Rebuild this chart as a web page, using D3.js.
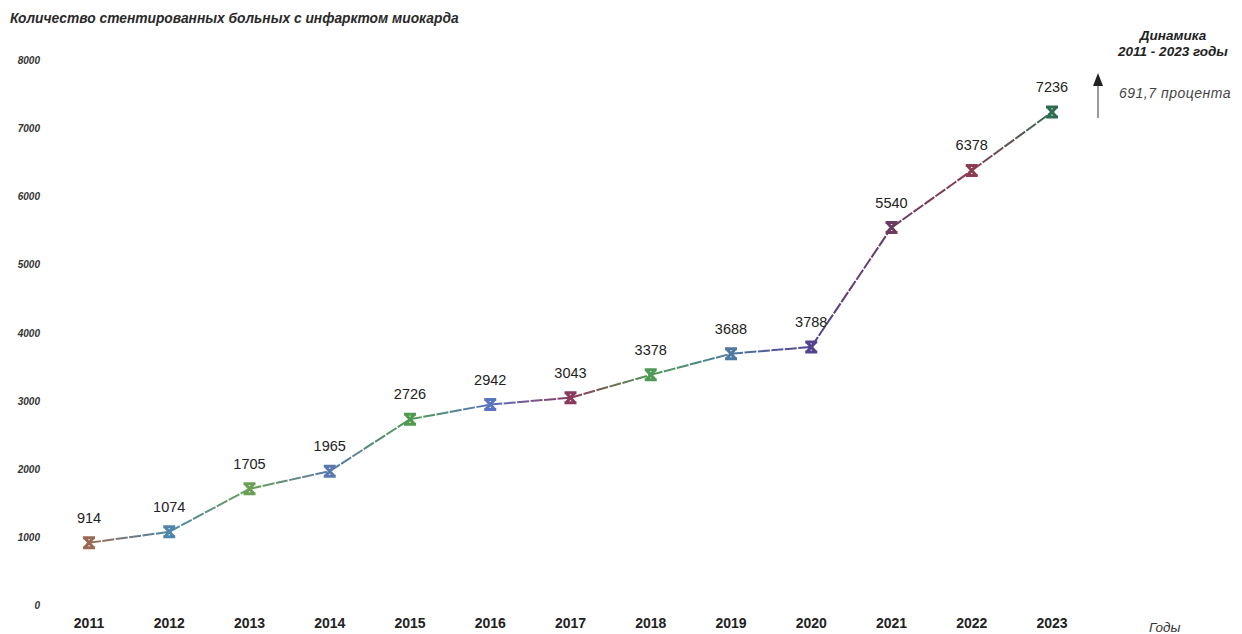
<!DOCTYPE html>
<html lang="ru">
<head>
<meta charset="utf-8">
<script src="https://cdn.jsdelivr.net/npm/d3@7"></script>
<style>
  html, body { margin: 0; padding: 0; background: #fff; }
  svg { display: block; font-family: "Liberation Sans", Arial, sans-serif; }
</style>
</head>
<body>
<svg id="chart" width="1242" height="634"></svg>
<script>
// Stented myocardial infarction patients per year
const years = ["2011", "2012", "2013", "2014", "2015", "2016", "2017", "2018", "2019", "2020", "2021", "2022", "2023"];
const patients = [914, 1074, 1705, 1965, 2726, 2942, 3043, 3378, 3688, 3788, 5540, 6378, 7236];
const yTicks = [0, 1000, 2000, 3000, 4000, 5000, 6000, 7000, 8000];

const titleText = "Количество стентированных больных с инфарктом миокарда";
const xAxisTitle = "Годы";
const noteLines = ["Динамика", "2011 - 2023 годы"];
const noteValue = "691,7 процента";

// marker colours, one per year
const pointColors = ["#9a6a55", "#4d86a8", "#6aa055", "#5a78b0", "#4f9a4f", "#5a74c4",
                     "#8a3a5c", "#4f9a55", "#4f7aa0", "#54428e", "#6a3c60", "#8a3c50", "#2e6e50"];

const svg = d3.select("#chart");

const x = d3.scalePoint().domain(years).range([89, 1052]);
const y = d3.scaleLinear().domain([0, 8000]).range([605, 60]);

// title
svg.append("text")
  .attr("x", 10).attr("y", 23)
  .attr("font-size", 13.8).attr("font-style", "italic").attr("font-weight", "bold").attr("fill", "#2a2a2a")
  .text(titleText);

// y axis labels (no line, no ticks)
svg.append("g").selectAll("text").data(yTicks).join("text")
  .attr("x", 40).attr("y", d => y(d) + 4)
  .attr("text-anchor", "end")
  .attr("font-size", 10).attr("font-weight", "bold").attr("font-style", "italic")
  .attr("fill", "#333")
  .text(d => d);

// x axis labels
svg.append("g").selectAll("text").data(years).join("text")
  .attr("x", d => x(d)).attr("y", 628)
  .attr("text-anchor", "middle")
  .attr("font-size", 14).attr("font-weight", "bold").attr("fill", "#222")
  .text(d => d);

svg.append("text")
  .attr("x", 1149).attr("y", 632)
  .attr("font-size", 13.5).attr("font-style", "italic").attr("fill", "#333")
  .text(xAxisTitle);

const pts = years.map((yr, i) => ({ year: yr, value: patients[i], color: pointColors[i] }));

// gradient-coloured line segments between consecutive points
const defs = svg.append("defs");
const segs = pts.slice(1).map((p, i) => ({ a: pts[i], b: p, id: "seg" + i }));
segs.forEach(s => {
  const g = defs.append("linearGradient")
    .attr("id", s.id).attr("gradientUnits", "userSpaceOnUse")
    .attr("x1", x(s.a.year)).attr("y1", y(s.a.value))
    .attr("x2", x(s.b.year)).attr("y2", y(s.b.value));
  g.append("stop").attr("offset", "0%").attr("stop-color", s.a.color);
  g.append("stop").attr("offset", "100%").attr("stop-color", s.b.color);
});

svg.append("g").selectAll("line").data(segs).join("line")
  .attr("x1", d => x(d.a.year)).attr("y1", d => y(d.a.value))
  .attr("x2", d => x(d.b.year)).attr("y2", d => y(d.b.value))
  .attr("stroke", d => `url(#${d.id})`)
  .attr("stroke-width", 2)
  .attr("stroke-dasharray", "12 1.5");

// hourglass-shaped markers
svg.append("g").selectAll("path").data(pts).join("path")
  .attr("transform", d => `translate(${x(d.year)},${y(d.value)})`)
  .attr("d", "M-6,-5H6M-6,5H6M-4.5,-5L4.5,5M4.5,-5L-4.5,5")
  .attr("fill", "none")
  .attr("stroke", d => d.color)
  .attr("stroke-width", 3);

// value labels
svg.append("g").selectAll("text").data(pts).join("text")
  .attr("x", d => x(d.year)).attr("y", d => y(d.value) - 20)
  .attr("text-anchor", "middle")
  .attr("font-size", 14.5).attr("fill", "#222")
  .text(d => d.value);

// growth note with arrow
const note = svg.append("g");
note.selectAll("text.h").data(noteLines).join("text")
  .attr("class", "h")
  .attr("x", 1173).attr("y", (d, i) => 40 + i * 16)
  .attr("text-anchor", "middle")
  .attr("font-size", 13.5).attr("font-style", "italic").attr("font-weight", "bold").attr("fill", "#222")
  .text(d => d);

note.append("line")
  .attr("x1", 1098).attr("x2", 1098).attr("y1", 118).attr("y2", 82)
  .attr("stroke", "#555").attr("stroke-width", 1.2);
note.append("path")
  .attr("d", "M1098,73 L1103,86 L1093,86 Z")
  .attr("fill", "#222");
note.append("text")
  .attr("x", 1119).attr("y", 98)
  .attr("font-size", 14).attr("font-style", "italic").attr("letter-spacing", 0.5).attr("fill", "#444")
  .text(noteValue);
</script>
</body>
</html>
